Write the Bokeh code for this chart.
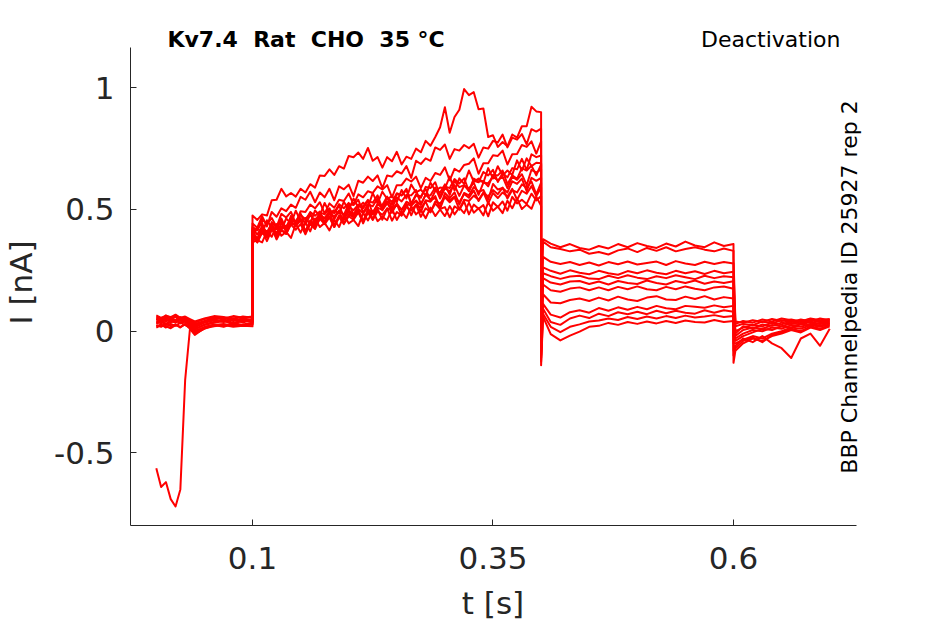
from bokeh.plotting import figure
from bokeh.models import Range1d, FixedTicker, Label, LinearAxis
from bokeh.embed import file_html
from bokeh.resources import INLINE
import math

# ---- time grids (s) ----
T_HOLD = [0.000, 0.005, 0.010, 0.015, 0.020, 0.025, 0.030, 0.035, 0.040,
          0.050, 0.060, 0.070, 0.080, 0.090, 0.100]
T_ACT = [0.100, 0.105, 0.110, 0.115, 0.120, 0.125, 0.130, 0.135, 0.140, 0.145,
         0.150, 0.155, 0.160, 0.165, 0.170, 0.175, 0.180, 0.185, 0.190, 0.195,
         0.200, 0.205, 0.210, 0.215, 0.220, 0.225, 0.230, 0.235, 0.240, 0.245,
         0.250, 0.255, 0.260, 0.265, 0.270, 0.275, 0.280, 0.285, 0.290, 0.295,
         0.300, 0.305, 0.310, 0.315, 0.320, 0.325, 0.330, 0.335, 0.340, 0.345,
         0.350, 0.355, 0.360, 0.365, 0.370, 0.375, 0.380, 0.385, 0.390, 0.395,
         0.400]
T_TAIL = [0.400, 0.402, 0.41, 0.42, 0.43, 0.44, 0.45, 0.46, 0.47, 0.48, 0.49,
          0.50, 0.51, 0.52, 0.53, 0.54, 0.55, 0.56, 0.57, 0.58, 0.59, 0.60]
T_POST = [0.600, 0.602, 0.61, 0.62, 0.63, 0.64, 0.65, 0.66, 0.67, 0.68, 0.69, 0.70]

# ---- currents (pA), one row per sweep ----
HOLD_PA = [
    [55, 48, 60, 52, 45, 58, 50, 40, 30, 42, 55, 48, 60, 52, 58],
    [30, 40, 25, 38, 45, 32, 40, 28, 10, 25, 35, 42, 30, 45, 38],
    [60, 52, 65, 55, 62, 50, 58, 45, 35, 50, 58, 52, 62, 55, 60],
    [20, 28, 15, 30, 22, 35, 25, 15, -5, 15, 28, 20, 35, 25, 30],
    [45, 55, 40, 50, 58, 42, 52, 38, 20, 40, 48, 55, 42, 50, 45],
    [25, 18, 32, 20, 28, 15, 30, 20, 0, 18, 25, 30, 22, 28, 35],
    [-563, -640, -620, -690, -720, -650, -200, 10, -10, 10, 25, 18, 30, 22, 28],
    [50, 40, 55, 45, 38, 52, 42, 30, 15, 35, 45, 38, 52, 40, 48],
    [35, 45, 30, 42, 35, 48, 38, 25, 5, 28, 38, 45, 35, 42, 40],
    [65, 55, 62, 58, 68, 55, 60, 50, 40, 52, 62, 58, 50, 60, 55],
    [15, 25, 20, 12, 25, 18, 28, 10, -15, 12, 20, 25, 18, 22, 20],
    [40, 32, 48, 38, 45, 35, 50, 35, 25, 38, 45, 40, 48, 35, 50],
]
ACT_PA = [
    [415, 418, 445, 387, 428, 420, 463, 418, 474, 445,
     455, 450, 490, 474, 492, 445, 493, 488, 522, 505,
     527, 478, 518, 504, 535, 528, 558, 505, 550, 530,
     567, 558, 585, 524, 558, 548, 593, 588, 612, 555,
     595, 588, 625, 607, 628, 575, 618, 612, 654, 640,
     663, 613, 650, 632, 670, 665, 708, 662, 727, 715, 722],
    [413, 378, 430, 407, 442, 393, 443, 430, 462, 452,
     483, 438, 478, 452, 488, 480, 505, 460, 496, 478,
     523, 518, 540, 487, 522, 513, 545, 497, 534, 520,
     563, 558, 580, 522, 562, 553, 585, 535, 577, 570,
     603, 560, 618, 592, 600, 576, 627, 615, 617, 595,
     643, 640, 660, 604, 640, 626, 670, 660, 680, 640, 685],
    [428, 415, 460, 440, 465, 428, 482, 467, 490, 442,
     493, 490, 520, 505, 530, 483, 525, 507, 540, 535,
     566, 520, 562, 550, 575, 568, 595, 582, 600, 550,
     600, 600, 627, 615, 635, 588, 630, 617, 650, 642,
     673, 620, 667, 655, 683, 688, 710, 647, 690, 690,
     723, 720, 742, 685, 727, 728, 765, 757, 780, 730, 780],
    [475, 457, 480, 475, 538, 540, 585, 554, 568, 553,
     585, 570, 604, 590, 640, 638, 665, 642, 678, 668,
     720, 715, 734, 708, 753, 700, 715, 672, 715, 698,
     737, 685, 717, 708, 750, 735, 782, 762, 798, 838,
     920, 815, 880, 910, 995, 970, 982, 912, 915, 798,
     805, 757, 777, 760, 808, 795, 842, 842, 922, 903, 900],
    [405, 380, 415, 370, 416, 405, 442, 423, 447, 438,
     465, 410, 448, 432, 473, 465, 490, 435, 475, 458,
     498, 477, 500, 452, 500, 488, 522, 507, 530, 486,
     525, 497, 532, 520, 536, 518, 562, 540, 547, 508,
     568, 547, 570, 520, 568, 558, 592, 573, 580, 540,
     605, 582, 588, 570, 616, 605, 627, 575, 630, 618, 630],
    [400, 365, 405, 386, 427, 383, 417, 400, 443, 435,
     458, 404, 440, 420, 463, 450, 472, 428, 473, 462,
     490, 470, 492, 443, 490, 480, 502, 458, 504, 495,
     520, 500, 522, 476, 520, 507, 532, 488, 533, 525,
     550, 530, 550, 500, 540, 535, 557, 540, 570, 525,
     568, 547, 570, 553, 585, 540, 577, 565, 596, 555, 590],
    [422, 397, 430, 393, 448, 427, 452, 405, 453, 448,
     477, 460, 485, 440, 482, 462, 495, 485, 516, 470,
     512, 497, 520, 513, 540, 482, 522, 518, 553, 505,
     550, 533, 560, 558, 580, 522, 560, 558, 590, 545,
     587, 575, 600, 556, 598, 587, 610, 560, 610, 608,
     634, 620, 635, 588, 635, 622, 645, 600, 663, 652, 665],
    [442, 425, 473, 430, 490, 470, 505, 493, 520, 507,
     552, 540, 573, 530, 570, 550, 585, 538, 595, 583,
     602, 555, 618, 610, 635, 617, 640, 588, 640, 635,
     657, 648, 678, 630, 700, 687, 710, 700, 755, 745,
     767, 708, 748, 742, 765, 752, 770, 713, 755, 750,
     782, 775, 808, 755, 795, 787, 810, 768, 830, 820, 832],
    [385, 365, 408, 392, 427, 377, 415, 400, 438, 417,
     440, 398, 443, 428, 462, 440, 467, 428, 468, 440,
     472, 458, 488, 448, 487, 457, 493, 478, 505, 454,
     490, 475, 510, 495, 520, 470, 505, 490, 525, 502,
     510, 468, 513, 500, 532, 480, 520, 503, 518, 472,
     530, 510, 533, 495, 552, 525, 540, 523, 565, 537, 555],
    [400, 376, 417, 400, 430, 385, 430, 418, 450, 432,
     455, 410, 455, 440, 470, 450, 483, 472, 495, 444,
     480, 468, 503, 485, 507, 460, 508, 498, 525, 502,
     522, 476, 523, 515, 537, 490, 538, 532, 555, 504,
     555, 538, 553, 530, 564, 548, 578, 535, 568, 554,
     580, 563, 590, 545, 580, 570, 603, 590, 615, 562, 610],
    [365, 374, 365, 410, 388, 432, 392, 408, 383, 440,
     405, 447, 410, 463, 428, 445, 414, 458, 428, 477,
     443, 457, 432, 486, 455, 495, 452, 470, 456, 503,
     457, 492, 465, 513, 480, 498, 464, 508, 473, 500,
     473, 514, 480, 508, 485, 528, 487, 505, 476, 530,
     495, 512, 485, 536, 505, 545, 502, 520, 503, 553, 515],
    [387, 425, 400, 456, 425, 440, 415, 463, 443, 495,
     452, 465, 442, 496, 475, 527, 485, 497, 483, 532,
     497, 545, 508, 528, 510, 567, 525, 573, 543, 555,
     530, 580, 545, 603, 570, 582, 557, 610, 578, 590,
     587, 635, 578, 628, 605, 660, 615, 627, 610, 670,
     627, 678, 640, 660, 642, 702, 660, 710, 678, 692, 690],
]
TAIL_PA = [
    [150, 378, 360, 345, 358, 342, 335, 350, 340, 358, 345, 362, 350, 342, 360, 348, 368, 352, 345, 365, 350, 358],
    [100, 368, 345, 338, 328, 335, 318, 325, 315, 332, 340, 325, 342, 330, 345, 328, 338, 345, 335, 328, 340, 330],
    [60, 305, 285, 276, 284, 272, 282, 270, 284, 275, 286, 274, 280, 286, 272, 288, 278, 272, 285, 276, 284, 278],
    [30, 262, 248, 236, 250, 240, 234, 248, 238, 232, 247, 238, 250, 240, 234, 248, 238, 246, 235, 248, 238, 244],
    [0, 238, 226, 215, 225, 228, 216, 214, 228, 218, 230, 220, 214, 226, 218, 230, 222, 214, 228, 218, 226, 222],
    [-30, 218, 200, 192, 204, 206, 194, 204, 192, 206, 198, 194, 208, 198, 192, 206, 198, 208, 195, 204, 198, 205],
    [-60, 192, 168, 162, 175, 180, 168, 180, 168, 182, 172, 184, 172, 168, 182, 172, 184, 174, 168, 180, 184, 174],
    [-80, 152, 118, 115, 128, 134, 124, 138, 126, 142, 130, 124, 138, 144, 130, 128, 142, 132, 144, 130, 140, 134],
    [-100, 112, 68, 56, 78, 86, 76, 95, 84, 98, 88, 100, 90, 104, 94, 90, 104, 100, 96, 106, 98, 104],
    [-110, 92, 38, 26, 52, 64, 54, 72, 62, 78, 70, 80, 70, 84, 74, 84, 76, 72, 86, 76, 86, 80],
    [-125, 72, 18, -4, 18, 28, 40, 44, 52, 46, 58, 50, 60, 52, 62, 54, 64, 56, 60, 66, 58, 62],
    [-140, 60, -12, -38, -18, -2, 18, 22, 34, 26, 38, 30, 40, 32, 42, 34, 44, 38, 36, 46, 38, 42],
]
POST_PA = [
    [300, 40, 35, 45, 38, 50, 42, 48, 40, 52, 45, 50],
    [250, 30, 42, 35, 48, 40, 52, 45, 38, 50, 42, 48],
    [200, 20, 30, 25, 40, 32, 45, 38, 48, 40, 52, 45],
    [150, 0, 15, 25, 20, 35, 28, 40, 32, 45, 38, 42],
    [100, -10, 20, 10, 28, 22, 35, 30, 42, 35, 30, 40],
    [60, -20, 5, 15, 10, 25, 20, 32, 28, 38, 30, 35],
    [20, -30, -10, 5, 0, 15, 10, 25, 18, 30, 22, 35],
    [-20, -40, -20, -5, 10, 5, 20, 15, 28, 22, 35, 30],
    [-50, -50, -35, -20, -30, -10, 0, 15, 10, 25, 18, 28],
    [-80, -60, -30, -45, -20, -50, -70, -110, -30, -10, -60, 10],
    [-100, -70, -40, -25, -45, -15, -5, 10, 0, 20, 10, 25],
    [-130, -80, -50, -30, -40, -20, -10, 5, -5, 15, 5, 20],
]

X_TICKS = [0.1, 0.35, 0.6]
X_TICK_LABELS = ["0.1", "0.35", "0.6"]
Y_TICKS = [-0.5, 0, 0.5, 1]
Y_TICK_LABELS = ["-0.5", "0", "0.5", "1"]

TITLE = "Kv7.4 \u00a0Rat \u00a0CHO \u00a035 \u00b0C"
PROTOCOL = "Deactivation"
SOURCE = "BBP Channelpedia ID 25927 rep 2"
X_LABEL = "t [s]"
Y_LABEL = "I [nA]"

FONT = "DejaVu Sans"
INK = "#262626"

# visible axes extent and the wider drawing frame (frame also hosts the texts)
X_AXIS = (-0.02682, 0.72786)
Y_AXIS = (-0.7983, 1.1656)
X_FRAME = (-0.02682, 0.81518)
Y_FRAME = (-0.7983, 1.3381)
X_LABEL_AT = 0.35     # centre of the visible x axis
Y_LABEL_AT = 0.2      # centre of the visible y axis

p = figure(frame_width=810, frame_height=520, output_backend="svg",
           toolbar_location=None,
           x_range=Range1d(*X_FRAME), y_range=Range1d(*Y_FRAME),
           min_border_left=130, min_border_right=5,
           min_border_top=5, min_border_bottom=99)
p.xgrid.visible = False
p.ygrid.visible = False
p.outline_line_color = None
p.background_fill_color = "white"
p.border_fill_color = "white"

for ax, ticks, labels, bounds in ((p.xaxis[0], X_TICKS, X_TICK_LABELS, X_AXIS),
                                  (p.yaxis[0], Y_TICKS, Y_TICK_LABELS, Y_AXIS)):
    ax.ticker = FixedTicker(ticks=ticks)
    ax.major_label_overrides = {t: l for t, l in zip(ticks, labels)}
    ax.bounds = bounds
    ax.minor_tick_line_color = None
    ax.major_tick_in = 6
    ax.major_tick_out = 0
    ax.axis_line_color = INK
    ax.major_tick_line_color = INK
    ax.major_label_text_font = FONT
    ax.major_label_text_font_size = "31px"
    ax.major_label_text_color = INK

p.xaxis.major_label_standoff = 21
p.yaxis.major_label_standoff = 16

# axis titles, centred on the visible axes (outer label-only axes)
x_title_axis = LinearAxis(ticker=FixedTicker(ticks=[X_LABEL_AT]),
                          major_label_overrides={X_LABEL_AT: X_LABEL},
                          major_label_standoff=7)
y_title_axis = LinearAxis(ticker=FixedTicker(ticks=[Y_LABEL_AT]),
                          major_label_overrides={Y_LABEL_AT: Y_LABEL},
                          major_label_standoff=6,
                          major_label_orientation="vertical")
for ax in (x_title_axis, y_title_axis):
    ax.axis_line_color = None
    ax.major_tick_line_color = None
    ax.minor_tick_line_color = None
    ax.major_label_text_font = FONT
    ax.major_label_text_font_size = "31px"
    ax.major_label_text_color = INK
p.add_layout(x_title_axis, "below")
p.add_layout(y_title_axis, "left")

tt = T_HOLD + T_ACT + T_TAIL + T_POST
for i in range(len(HOLD_PA)):
    vals = HOLD_PA[i] + ACT_PA[i] + TAIL_PA[i] + POST_PA[i]
    p.line(tt, [v / 1000.0 for v in vals], line_color="#ff0000",
           line_width=2, line_join="round")

p.add_layout(Label(x=0.0116, y=1.2, text=TITLE, text_font=FONT,
                   text_font_size="22px", text_font_style="bold",
                   text_color="black", text_baseline="middle", text_align="left"))
p.add_layout(Label(x=0.7112, y=1.2, text=PROTOCOL, text_font=FONT,
                   text_font_size="22px", text_color="black",
                   text_baseline="middle", text_align="right"))
p.add_layout(Label(x=0.7206, y=0.1816, text=SOURCE, text_font=FONT,
                   text_font_size="22px", text_color="black", angle=math.pi / 2,
                   text_baseline="middle", text_align="center"))

open("out.html", "w").write(file_html(p, INLINE))
